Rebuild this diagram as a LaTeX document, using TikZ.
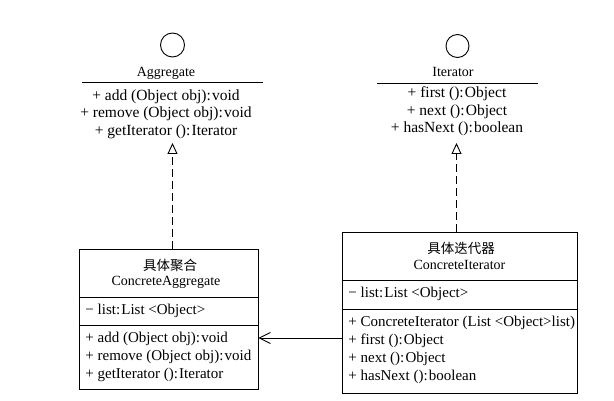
\documentclass[tikz,border=0pt]{standalone}
\usepackage{fontspec}
\setmainfont{Liberation Serif}
\newfontfamily\cjk{Noto Sans CJK SC}
\usetikzlibrary{arrows.meta}
\newcommand\cln{:\kern1.2pt}
\begin{document}
\begin{tikzpicture}[x=1pt,y=-1pt,
  line width=0.9pt,
  txt/.style={inner sep=0pt, font=\fontsize{14}{18}\selectfont},
  itxt/.style={inner sep=0pt, font=\fontsize{15.5}{17.5}\selectfont, align=center},
  lines/.style={inner sep=0pt, font=\fontsize{15}{18}\selectfont, align=left, anchor=west},
  classbox/.style={draw, inner sep=0pt},
  iface/.style={draw, circle, inner sep=0pt, minimum size=24pt},
  realize/.style={dashed, dash pattern=on 8pt off 4pt, -{Triangle[open, length=11pt, width=10pt]}},
  assoc/.style={-{Straight Barb[length=11pt, width=11pt]}}
]
\useasboundingbox (0,0) rectangle (614,401);

% ---------- Aggregate interface ----------
\node[iface] (agc) at (172.5,45) {};
\node[txt] (agn) at (166,73) {Aggregate};
\coordinate (agl1) at (82,82);
\coordinate (agl2) at (263,82);
\draw (agl1) -- (agl2);
\node[itxt] (agm) at (166,114) {+ add (Object obj)\cln void\\+ remove (Object obj)\cln void\\+ getIterator ()\cln Iterator};
\coordinate (agtip) at (172.5,143);

% ---------- Iterator interface ----------
\node[iface, minimum size=23pt] (itc) at (457.5,46) {};
\node[txt] (itn) at (453,72) {Iterator};
\coordinate (itl1) at (377,83);
\coordinate (itl2) at (538,83);
\draw (itl1) -- (itl2);
\node[itxt] (itm) at (457,111.5) {+ first ()\cln Object\\+ next ()\cln Object\\+ hasNext ()\cln boolean};
\coordinate (ittip) at (456.5,143);

% ---------- ConcreteAggregate ----------
\node[classbox, minimum width=179pt, minimum height=140pt] (ca) at (168.5,319) {};
\draw (ca.west |- 0,297) -- (ca.east |- 0,297);
\draw (ca.west |- 0,325) -- (ca.east |- 0,325);
\node[txt] (cat1) at (170,265) {\cjk\fontsize{13.5}{16}\selectfont 具体聚合};
\node[txt] (cat2) at (166,282) {ConcreteAggregate};
\node[lines] (caa) at (85,311) {− list\cln List <Object>};
\node[lines] (cam) at (85,357) {+ add (Object obj)\cln void\\+ remove (Object obj)\cln void\\+ getIterator ()\cln Iterator};

% ---------- ConcreteIterator ----------
\node[classbox, minimum width=235pt, minimum height=161pt] (ci) at (459.5,312.5) {};
\draw (ci.west |- 0,280) -- (ci.east |- 0,280);
\draw (ci.west |- 0,309) -- (ci.east |- 0,309);
\node[txt] (cit1) at (461,248) {\cjk\fontsize{13.5}{16}\selectfont 具体迭代器};
\node[txt] (cit2) at (459.5,265) {ConcreteIterator};
\node[lines] (cia) at (348,294) {− list\cln List <Object>};
\node[lines] (cim) at (348,349.5) {+ ConcreteIterator (List <Object>list)\\+ first ()\cln Object\\+ next ()\cln Object\\+ hasNext ()\cln boolean};

% ---------- connectors ----------
\draw[realize] (ca.north -| agtip) -- (agtip);
\draw[realize] (ci.north -| ittip) -- (ittip);
\coordinate (ay) at (0,338);
\draw[assoc] (ci.west |- ay) -- (ca.east |- ay);
\end{tikzpicture}
\end{document}
